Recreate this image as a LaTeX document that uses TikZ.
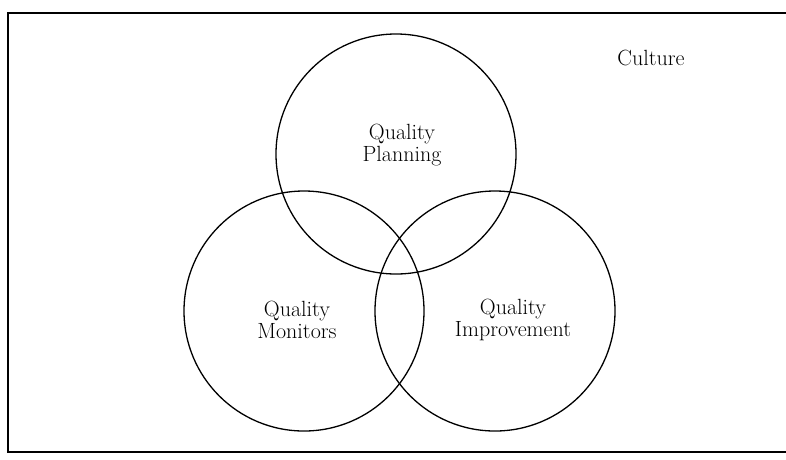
\documentclass[tikz,border=0pt]{standalone}
\usepackage{fontspec}
\begin{document}
\begin{tikzpicture}[x=1pt,y=-1pt,
  ring/.style={draw, circle, minimum size=240pt, inner sep=0pt, line width=1.3pt},
  lbl/.style={align=center, font=\fontsize{22}{21.5}\selectfont, inner sep=0pt}]
\useasboundingbox (0,0) rectangle (786,459);
\coordinate (tr) at (786,13);
\coordinate (tl) at (8,13);
\coordinate (bl) at (8,452);
\coordinate (br) at (786,452);
\draw[line width=1.8pt] (tr) -- (tl) -- (bl) -- (br);
\node[ring] (plan) at (396,154) {};
\node[ring] (mon) at (304,311) {};
\node[ring] (imp) at (495,311) {};
\node[lbl] (tplan) at (402,145) {Quality\\Planning};
\node[lbl] (tmon) at (297,320) {Quality\\Monitors};
\node[lbl] (timp) at (513,320) {Quality\\Improvement};
\node[lbl] (cult) at (651,58) {Culture};
\end{tikzpicture}
\end{document}
